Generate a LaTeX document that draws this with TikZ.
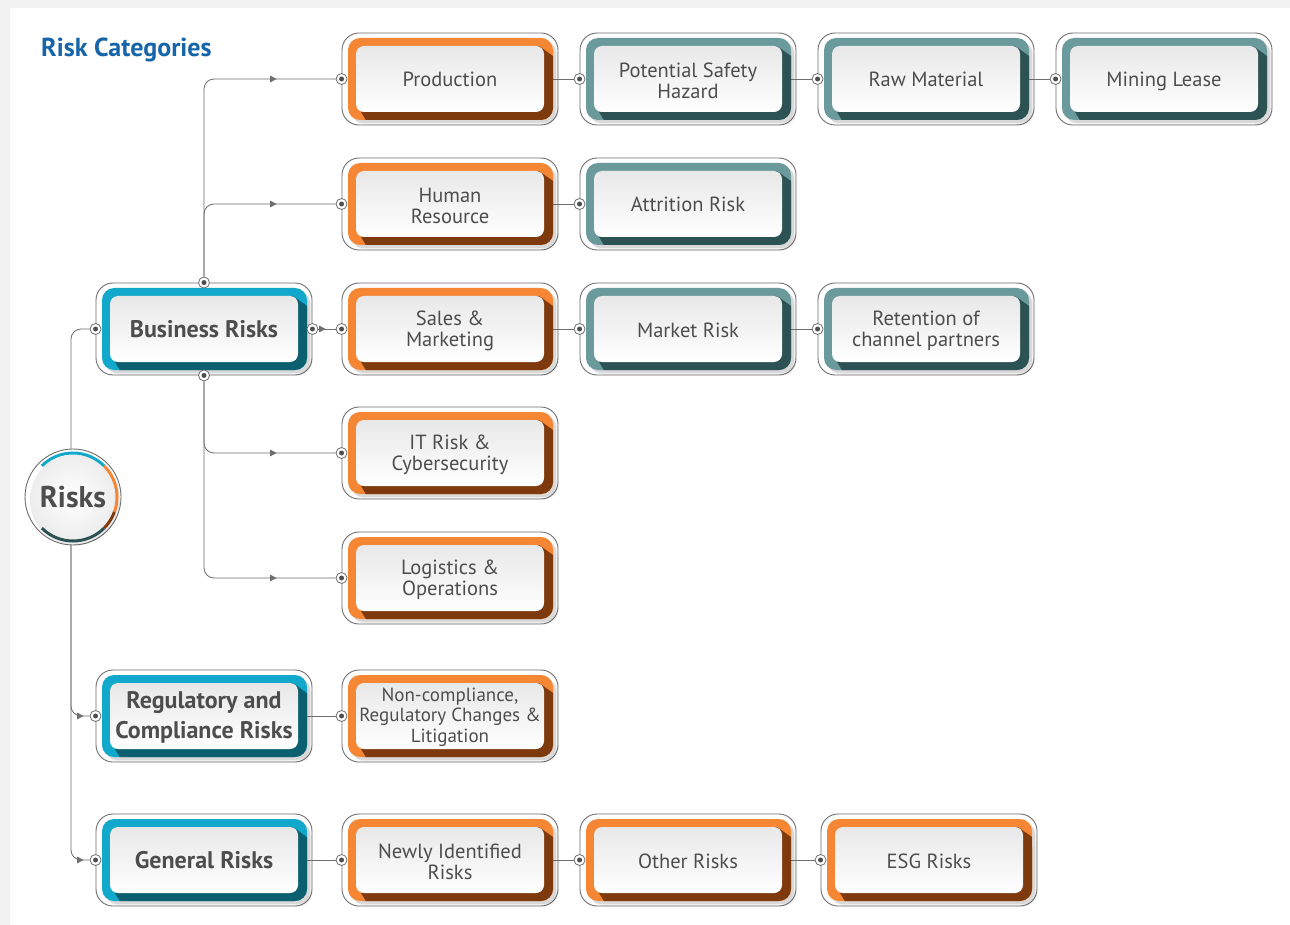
\documentclass[tikz,border=0pt]{standalone}
\usepackage{fontspec}
\setmainfont{PT Sans}
\usetikzlibrary{calc,arrows.meta,decorations.markings}
\definecolor{org}{HTML}{F58634}
\definecolor{orgd}{HTML}{7E3A0C}
\definecolor{tea}{HTML}{6B9A9C}
\definecolor{tead}{HTML}{2D5254}
\definecolor{blu}{HTML}{12A8CB}
\definecolor{blud}{HTML}{0C5F6F}
\definecolor{txt}{HTML}{4D4D4D}
\definecolor{ttl}{HTML}{1565A8}
\definecolor{lin}{HTML}{6E6E6E}
\definecolor{bg}{HTML}{F2F2F2}
\tikzset{
 outerbox/.style={draw=lin, line width=0.9pt, fill=white, rounded corners=17pt, minimum width=216pt, minimum height=92pt, inner sep=0pt},
 port/.style={circle, draw=lin, line width=0.8pt, fill=white, minimum size=11pt, inner sep=0pt, path picture={\fill[lin!70!black] (path picture bounding box.center) circle (2.5pt);}},
 conn/.style={lin, line width=0.8pt, rounded corners=10pt},
 midarrow/.style={postaction={decorate}, decoration={markings, mark=at position #1 with {\arrow{Triangle[width=6.5pt,length=6.5pt]}}}},
 boxtxt/.style={text=txt, font=\fontsize{20.5}{21}\selectfont, align=center, inner sep=0pt, anchor=base, yshift=-8pt},
 boxtxtm/.style={text=txt, font=\fontsize{20.5}{21}\selectfont, align=center, inner sep=0pt, yshift=-1.5pt},
 boxtxts/.style={text=txt, font=\fontsize{19}{20.5}\selectfont, align=center, inner sep=0pt, yshift=-1pt},
 cattxt/.style={text=txt, font=\fontsize{24}{30}\selectfont\bfseries, align=center, inner sep=0pt, anchor=base, yshift=-8.5pt},
 cattxtm/.style={text=txt, font=\fontsize{24}{30}\selectfont\bfseries, align=center, inner sep=0pt, yshift=-1pt},
}
\newcommand{\rbox}[7]{%
 \node[outerbox] (#1) at (#2,#3) {};
 \begin{scope}[shift={(#2,#3)}]
  \fill[black, opacity=0.10, rounded corners=12pt] (-99,-38) rectangle (106,44);
  \fill[black, opacity=0.05, rounded corners=12pt] (-97,-36) rectangle (108,46);
  \fill[#4, rounded corners=12pt] (-102,-41) rectangle (103,41);
  \begin{scope}
   \clip[rounded corners=12pt] (-102,-41) rectangle (103,41);
   \fill[#5] (89,-33) -- (103,-23) -- (110,48) -- (-80,48) -- (-89,33) -- cycle;
  \end{scope}
  \shade[top color=gray!18, bottom color=white, rounded corners=8pt] (-94,-33) rectangle (94,33);
  \coordinate (#1-out) at (103,0);
 \end{scope}
 \node[#7] (#1-t) at (#2,#3) {#6};
}
\begin{document}
\begin{tikzpicture}[x=1pt,y=-1pt]
\useasboundingbox (0,0) rectangle (1290,925);
\fill[bg] (0,0) rectangle (1290,925);
\fill[white] (10,8) rectangle (1290,925);
\node[text=ttl, font=\fontsize{26}{28}\selectfont\bfseries, anchor=base west, inner sep=0pt] (title) at (41,57) {Risk Categories};

% category boxes
\rbox{br}{204}{329}{blu}{blud}{Business Risks}{cattxt}
\rbox{reg}{204}{716}{blu}{blud}{Regulatory and\\Compliance Risks}{cattxtm}
\rbox{gen}{204}{860}{blu}{blud}{General Risks}{cattxt}
% column 2
\rbox{prod}{450}{79}{org}{orgd}{Production}{boxtxt}
\rbox{hr}{450}{204}{org}{orgd}{Human\\Resource}{boxtxtm}
\rbox{sales}{450}{329}{org}{orgd}{Sales \&\\Marketing}{boxtxtm}
\rbox{it}{450}{453}{org}{orgd}{IT Risk \&\\Cybersecurity}{boxtxtm}
\rbox{log}{450}{578}{org}{orgd}{Logistics \&\\Operations}{boxtxtm}
\rbox{nc}{450}{716}{org}{orgd}{Non-compliance,\\Regulatory Changes \&\\Litigation}{boxtxts}
\rbox{new}{450}{860}{org}{orgd}{Newly Identified\\Risks}{boxtxtm}
% column 3+
\rbox{psh}{688}{79}{tea}{tead}{Potential Safety\\Hazard}{boxtxtm}
\rbox{raw}{926}{79}{tea}{tead}{Raw Material}{boxtxt}
\rbox{mine}{1164}{79}{tea}{tead}{Mining Lease}{boxtxt}
\rbox{attr}{688}{204}{tea}{tead}{Attrition Risk}{boxtxt}
\rbox{mkt}{688}{329}{tea}{tead}{Market Risk}{boxtxt}
\rbox{ret}{926}{329}{tea}{tead}{Retention of\\channel partners}{boxtxtm}
\rbox{oth}{688}{860}{org}{orgd}{Other Risks}{boxtxt}
\rbox{esg}{929}{860}{org}{orgd}{ESG Risks}{boxtxt}

% Risks circle
\node[circle, draw=lin, line width=0.9pt, fill=white, minimum size=96pt, inner sep=0pt] (risks) at (73,497) {};
\fill[black, opacity=0.08] ($(risks.center)+(2pt,-3pt)$) circle (45pt);
\draw[blu, line width=3pt] ($(risks.center)+(135:44pt)$) arc[start angle=135, end angle=45, radius=44pt];
\draw[org, line width=3pt] ($(risks.center)+(45:44pt)$) arc[start angle=45, end angle=-20, radius=44pt];
\draw[orgd, line width=3pt] ($(risks.center)+(-20:44pt)$) arc[start angle=-20, end angle=-45, radius=44pt];
\draw[tead, line width=3pt] ($(risks.center)+(-45:44pt)$) arc[start angle=-45, end angle=-135, radius=44pt];
\shade[inner color=white, outer color=gray!14] (risks.center) circle (42pt);
\node[text=txt, font=\fontsize{30}{32}\selectfont\bfseries, inner sep=0pt] (risks-t) at (risks.center) {Risks};

% ports
\node[port] (brL) at (br.west) {};
\node[port] (brR) at (br.east) {};
\node[port] (brT) at (br.north) {};
\node[port] (brB) at (br.south) {};
\node[port] (regL) at (reg.west) {};
\node[port] (genL) at (gen.west) {};
\foreach \n in {prod,hr,sales,it,log,nc,new,psh,raw,mine,attr,mkt,ret,oth,esg}
  \node[port] (\n L) at (\n.west) {};

% connectors
\draw[conn] ([xshift=-2pt]risks.north) |- (brL);
\draw[conn, midarrow=-6pt] ([xshift=-2pt]risks.south) |- (regL);
\draw[conn, midarrow=-6pt] ([xshift=-2pt]risks.south) |- (genL);
\draw[conn, midarrow=-59pt] (brT) |- (prodL);
\draw[conn, midarrow=-59pt] (brT) |- (hrL);
\draw[conn, midarrow=-59pt] (brB) |- (itL);
\draw[conn, midarrow=-59pt] (brB) |- (logL);
\draw[conn, midarrow=-10pt] (brR) -- (salesL);
\draw[conn] (prod-out) -- (pshL);
\draw[conn] (psh-out) -- (rawL);
\draw[conn] (raw-out) -- (mineL);
\draw[conn] (hr-out) -- (attrL);
\draw[conn] (sales-out) -- (mktL);
\draw[conn] (mkt-out) -- (retL);
\draw[conn] (reg-out) -- (ncL);
\draw[conn] (gen-out) -- (newL);
\draw[conn] (new-out) -- (othL);
\draw[conn] (oth-out) -- (esgL);
\end{tikzpicture}
\end{document}
